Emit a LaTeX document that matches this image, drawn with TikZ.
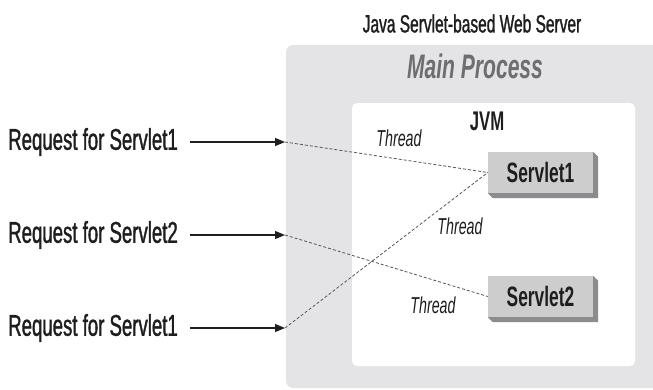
\documentclass[tikz,border=0pt]{standalone}
\usepackage{fontspec}
\setmainfont{Liberation Sans}[FakeStretch=0.62,UprightFeatures={FakeBold=1.2}]
\usetikzlibrary{arrows.meta,calc,positioning}
\definecolor{ProcessGray}{HTML}{E4E4E6}
\definecolor{ProcessText}{HTML}{6E6E70}
\definecolor{ServletFace}{HTML}{CDCDCE}
\definecolor{ServletShade}{HTML}{8C8C8E}
\definecolor{InkDark}{HTML}{1E1E1E}

\tikzset{
  req/.style={font=\fontsize{30}{32}\selectfont,text=InkDark,inner sep=0pt},
  thread/.style={font=\fontsize{23}{25}\selectfont\itshape,text=InkDark,inner sep=0pt},
  servletbox/.style={fill=ServletFace,minimum width=105pt,minimum height=41pt,
    inner sep=0pt,font=\fontsize{28}{30}\selectfont\bfseries,text=InkDark},
  threadline/.style={InkDark!75,line width=0.8pt,dash pattern=on 3pt off 2pt},
  reqarrow/.style={-{Triangle[length=10pt,width=8pt]},line width=1.1pt,InkDark}
}

\begin{document}
\begin{tikzpicture}[x=1pt,y=-1pt]
      \useasboundingbox (0,0) rectangle (653,389);
      % server frame
      \node[font=\fontsize{25}{27}\selectfont,text=InkDark,inner sep=0pt]
      (server) at (472,23.5) {Java Servlet-based Web Server};
      \fill[ProcessGray,rounded corners=7pt] (286,45) rectangle (670,388);
      \node[font=\fontsize{34}{36}\selectfont\bfseries\itshape,text=ProcessText,inner sep=0pt]
      (main) at (475,66.5) {Main Process};
      \fill[white,rounded corners=5pt] (352,103) rectangle (635,366);
      \node[font=\fontsize{27}{29}\selectfont\bfseries,text=InkDark,inner sep=0pt]
      (jvm) at (487,121.5) {JVM};
      % servlets with shading
      \node[servletbox] (s1) at (540.5,172.5) {Servlet1};
      \node[servletbox] (s2) at (540.5,296.5) {Servlet2};
      \foreach \s in {s1,s2}{
        \fill[ServletShade] (\s.north east) -- ++(5,5) -- ($(\s.south east)+(5,5)$)
        -- ($(\s.south west)+(5,5)$) -- (\s.south west) -- (\s.south east) -- cycle;
      }
      % incoming requests
      \node[req,anchor=east] (req1) at (178,142) {Request for Servlet1};
      \node[req,anchor=east] (req2) at (178,235) {Request for Servlet2};
      \node[req,anchor=east] (req3) at (178,328) {Request for Servlet1};
      \coordinate (t1) at (285,142);
      \coordinate (t2) at (285,235);
      \coordinate (t3) at (285,328);
      \foreach \i in {1,2,3}
        \draw[reqarrow] ([xshift=12pt]req\i.east) -- (t\i);
      % threads
      \draw[threadline] (t1) -- (s1.west);
      \draw[threadline] (t2) -- (s2.west);
      \draw[threadline] (t3) -- (s1.west);
      \node[thread] (th1) at (399,138.5) {Thread};
      \node[thread] (th2) at (460,226.5) {Thread};
      \node[thread] (th3) at (433,305) {Thread};
    \end{tikzpicture}
\end{document}
